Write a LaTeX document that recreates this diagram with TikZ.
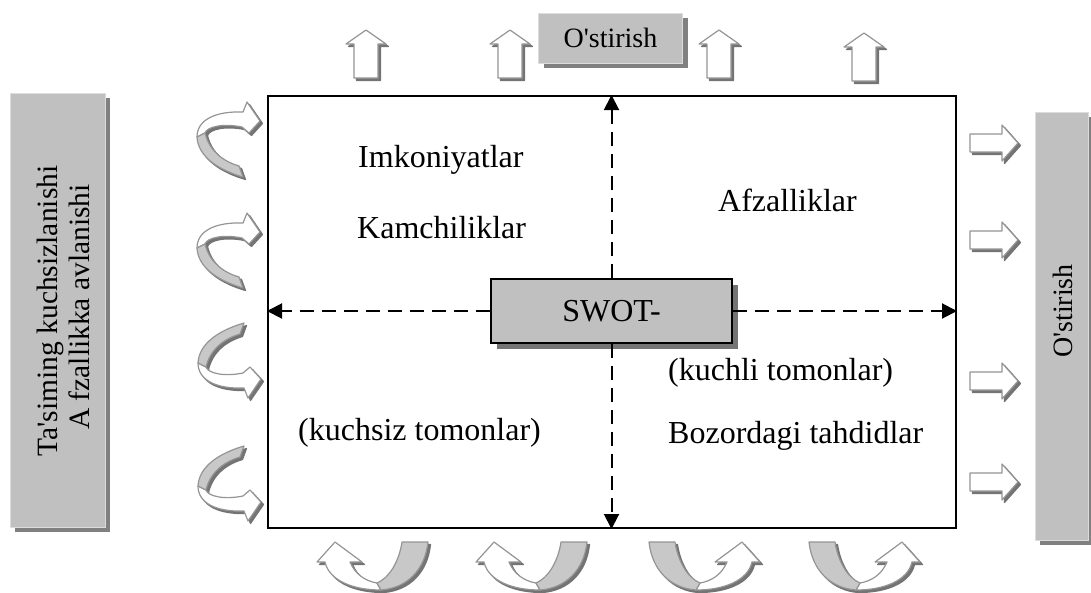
\documentclass[tikz,border=0pt]{standalone}
\usepackage{fontspec}
\setmainfont{Liberation Serif}[Ligatures=TeXOff]
\usetikzlibrary{arrows.meta,shadows}
\definecolor{boxgray}{HTML}{C0C0C0}
\definecolor{shadowgray}{HTML}{808080}
\definecolor{edgegray}{HTML}{959595}
\definecolor{bandgray}{HTML}{C8C8C8}
\definecolor{lightedge}{HTML}{DCDCDC}
\definecolor{ashadow}{HTML}{747474}
\tikzset{
  txt/.style={font=\fontsize{32}{38}\selectfont, inner sep=0pt},
  sidetxt/.style={font=\fontsize{29.5}{33}\selectfont, inner sep=0pt, rotate=90},
  toptxt/.style={font=\fontsize{28}{33}\selectfont, inner sep=0pt},
  dashline/.style={line width=2pt, dash pattern=on 14pt off 8pt, -{Triangle[length=15pt,width=15pt]}},
  whitepart/.style={fill=white, draw=edgegray, line width=1.2pt, line join=round},
  graypart/.style={fill=bandgray, draw=edgegray, line width=1.2pt, line join=round},
  shadowpart/.style={fill=ashadow, draw=ashadow, line width=1.2pt, line join=round},
  greybox/.style={fill=boxgray, draw=lightedge, line width=1pt, inner sep=0pt,
     drop shadow={shadow xshift=5pt, shadow yshift=-5pt, fill=shadowgray, opacity=1}},
}
\newcommand{\myuparr}[1]{\path[#1] (0,0) -- (20,14) -- (12,14) -- (12,48) -- (-12,48) -- (-12,14) -- (-20,14) -- cycle;}
\newcommand{\myrarr}[1]{\path[#1] (0,-9) -- (32,-9) -- (32,-18) -- (48,0) -- (32,18) -- (32,9) -- (0,9) -- cycle;}
\newcommand{\mycshape}[2]{%
  \path[#1] (0,35) .. controls (0,18) and (18,9) .. (46,10) -- (50,0) -- (63,19) -- (52,31) -- (45,25) .. controls (25,21) and (10,25) .. (8,31) -- cycle;
  \path[#2] (0,35) .. controls (1,55) and (22,68) .. (46,75) -- (42,64) .. controls (25,59) and (12,48) .. (8,31) -- cycle;}
\newcommand{\myushape}[2]{%
  \path[#1] (64,50) .. controls (35,50) and (12,40) .. (8,22) -- (0,22) -- (18,2) -- (45,22) -- (33,22) .. controls (38,34) and (48,41) .. (60,43) -- cycle;
  \path[#2] (64,50) .. controls (90,48) and (108,30) .. (111,2) -- (85,2) .. controls (82,22) and (72,38) .. (60,43) -- cycle;}
\begin{document}
\begin{tikzpicture}[x=1pt,y=-1pt]
\useasboundingbox[fill=white] (0,0) rectangle (1091,592);

% main frame
\node[draw, line width=2pt, minimum width=688pt, minimum height=432pt, inner sep=0pt, anchor=north west] (frame) at (267,95) {};
\fill[white] (953.8,430) rectangle (955.1,495);

% centre box
\node[fill=boxgray, draw, line width=2pt, minimum width=241pt, minimum height=64pt, txt,
      drop shadow={shadow xshift=6pt, shadow yshift=-6pt, fill=ashadow, opacity=1}] (swot) at (611.5,311) {SWOT-};

% dashed arrows
\draw[dashline] (swot.north) -- (swot.north |- frame.north);
\draw[dashline] (swot.south) -- (swot.south |- frame.south);
\draw[dashline] (swot.west) -- (swot.west -| frame.west);
\draw[dashline] (swot.east) -- (swot.east -| frame.east);

% quadrant texts
\node[txt, anchor=west] (imk) at (358,160) {Imkoniyatlar};
\node[txt, anchor=west] (kam) at (357,228) {Kamchiliklar};
\node[txt, anchor=west] (afz) at (718,200) {Afzalliklar};
\node[txt, anchor=west] (kuchsiz) at (298,433) {(kuchsiz tomonlar)};
\node[txt, anchor=west] (kuchli) at (668,373) {(kuchli tomonlar)};
\node[txt, anchor=west] (boz) at (668,436) {Bozordagi tahdidlar};

% top box
\node[greybox, minimum width=144pt, minimum height=50pt, toptxt] (topbox) at (610.5,38) {O'stirish};

% left box
\node[greybox, minimum width=95pt, minimum height=434pt] (leftbox) at (57.5,310) {};
\node[sidetxt, anchor=base] (lt1) at (57,311) {Ta'siming kuchsizlanishi};
\node[sidetxt, anchor=base] (lt2) at (89,307) {A fzallikka avlanishi};

% right box
\node[greybox, minimum width=53pt, minimum height=428pt] (rightbox) at (1061.5,326) {};
\node[sidetxt, anchor=base, font=\fontsize{28}{33}\selectfont] (rt) at (1072,311) {O'stirish};

% top up arrows
\foreach \cx/\ty in {366/30, 510/30, 719/30, 864/33}{
  \begin{scope}[shift={(\cx+2.5,\ty+2.5)}] \myuparr{shadowpart} \end{scope}
  \begin{scope}[shift={(\cx,\ty)}] \myuparr{whitepart} \end{scope}
}

% right arrows
\foreach \cy in {143, 240, 381, 482}{
  \begin{scope}[shift={(972.5,\cy+2.5)}] \myrarr{shadowpart} \end{scope}
  \begin{scope}[shift={(970,\cy)}] \myrarr{whitepart} \end{scope}
}

% left curved arrows
\foreach \ty in {102, 213}{
  \begin{scope}[shift={(199.5,\ty+2.5)}] \mycshape{shadowpart}{shadowpart} \end{scope}
  \begin{scope}[shift={(197,\ty)}] \mycshape{whitepart}{graypart} \end{scope}
}
\foreach \by in {398, 521}{
  \begin{scope}[shift={(200.5,\by+2.5)}, yscale=-1] \mycshape{shadowpart}{shadowpart} \end{scope}
  \begin{scope}[shift={(198,\by)}, yscale=-1] \mycshape{whitepart}{graypart} \end{scope}
}

% bottom curved arrows
\foreach \lx in {317, 476}{
  \begin{scope}[shift={(\lx+2.5,542.5)}] \myushape{shadowpart}{shadowpart} \end{scope}
  \begin{scope}[shift={(\lx,540)}] \myushape{whitepart}{graypart} \end{scope}
}
\foreach \rx in {760, 920}{
  \begin{scope}[shift={(\rx+2.5,542.5)}, xscale=-1] \myushape{shadowpart}{shadowpart} \end{scope}
  \begin{scope}[shift={(\rx,540)}, xscale=-1] \myushape{whitepart}{graypart} \end{scope}
}
\end{tikzpicture}
\end{document}
